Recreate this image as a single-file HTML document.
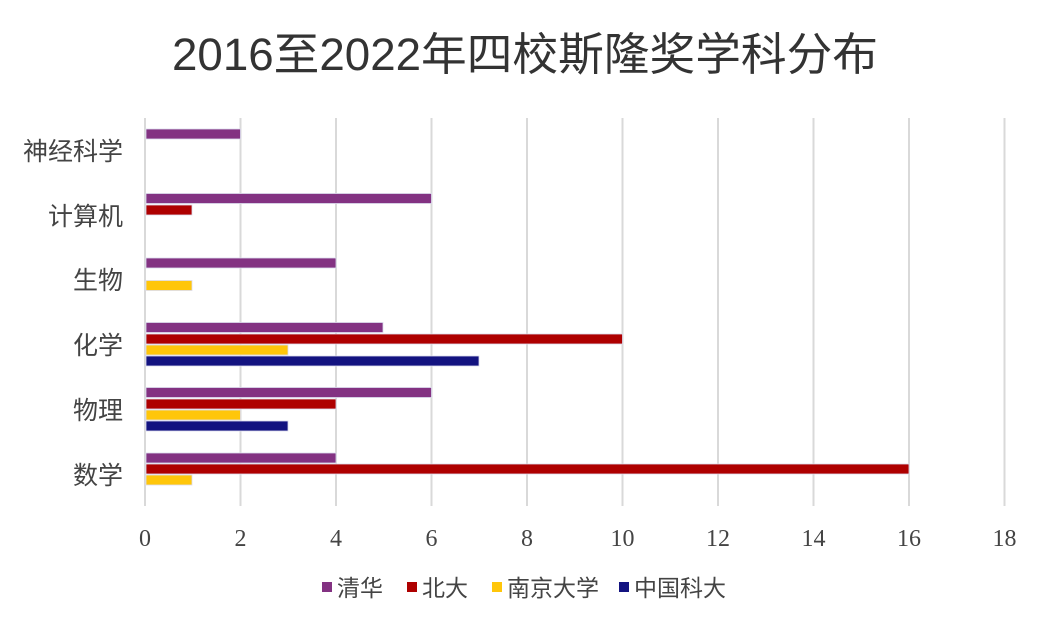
<!DOCTYPE html>
<html><head><meta charset="utf-8"><style>body{margin:0;background:#fff}</style></head><body>
<svg width="1050" height="625" xmlns="http://www.w3.org/2000/svg" font-family="'Liberation Sans','Noto Sans CJK SC',sans-serif">
<rect width="1050" height="625" fill="#fff"/>
<text x="172" y="70" font-size="45" fill="#333" textLength="706" lengthAdjust="spacingAndGlyphs">2016至2022年四校斯隆奖学科分布</text>
<g stroke="#d9d9d9" stroke-width="2">
<line x1="145" y1="118" x2="145" y2="506"/><line x1="240.5" y1="118" x2="240.5" y2="506"/><line x1="336" y1="118" x2="336" y2="506"/><line x1="431.5" y1="118" x2="431.5" y2="506"/><line x1="527" y1="118" x2="527" y2="506"/><line x1="622.5" y1="118" x2="622.5" y2="506"/><line x1="718" y1="118" x2="718" y2="506"/><line x1="813.5" y1="118" x2="813.5" y2="506"/><line x1="909" y1="118" x2="909" y2="506"/><line x1="1004.5" y1="118" x2="1004.5" y2="506"/>
</g>
<g font-family="'Liberation Serif','Noto Serif CJK SC',serif" font-size="24" fill="#444" text-anchor="middle">
<text x="145" y="546">0</text><text x="240.5" y="546">2</text><text x="336" y="546">4</text><text x="431.5" y="546">6</text><text x="527" y="546">8</text><text x="622.5" y="546">10</text><text x="718" y="546">12</text><text x="813.5" y="546">14</text><text x="909" y="546">16</text><text x="1004.5" y="546">18</text>
</g>
<g font-size="25" fill="#444" text-anchor="end">
<text x="123" y="160">神经科学</text><text x="123" y="225">计算机</text><text x="123" y="289">生物</text><text x="123" y="354">化学</text><text x="123" y="419">物理</text><text x="123" y="484">数学</text>
</g>
<g stroke="#dde" stroke-width="0.8">
<rect x="146" y="129" width="94.5" height="10" fill="#833282"/>
<rect x="146" y="193.5" width="285.5" height="10" fill="#833282"/>
<rect x="146" y="205" width="46" height="10" fill="#ae0000"/>
<rect x="146" y="258" width="190" height="10" fill="#833282"/>
<rect x="146" y="280.5" width="46" height="10" fill="#ffc60a"/>
<rect x="146" y="322.5" width="237" height="10" fill="#833282"/>
<rect x="146" y="334" width="476.5" height="10" fill="#ae0000"/>
<rect x="146" y="345" width="142" height="10" fill="#ffc60a"/>
<rect x="146" y="356" width="333" height="10" fill="#131380"/>
<rect x="146" y="387.5" width="285.5" height="10" fill="#833282"/>
<rect x="146" y="399" width="190" height="10" fill="#ae0000"/>
<rect x="146" y="410" width="94.5" height="10" fill="#ffc60a"/>
<rect x="146" y="421" width="142" height="10" fill="#131380"/>
<rect x="146" y="453" width="190" height="10" fill="#833282"/>
<rect x="146" y="464" width="763" height="10" fill="#ae0000"/>
<rect x="146" y="475" width="46" height="10" fill="#ffc60a"/>
</g>
<g font-size="23" fill="#444">
<rect x="322" y="582" width="10" height="10" fill="#833282"/><text x="337" y="596">清华</text>
<rect x="407" y="582" width="10" height="10" fill="#ae0000"/><text x="422" y="596">北大</text>
<rect x="492" y="582" width="10" height="10" fill="#ffc60a"/><text x="507" y="596">南京大学</text>
<rect x="619" y="582" width="10" height="10" fill="#131380"/><text x="634" y="596">中国科大</text>
</g>
</svg>
</body></html>
